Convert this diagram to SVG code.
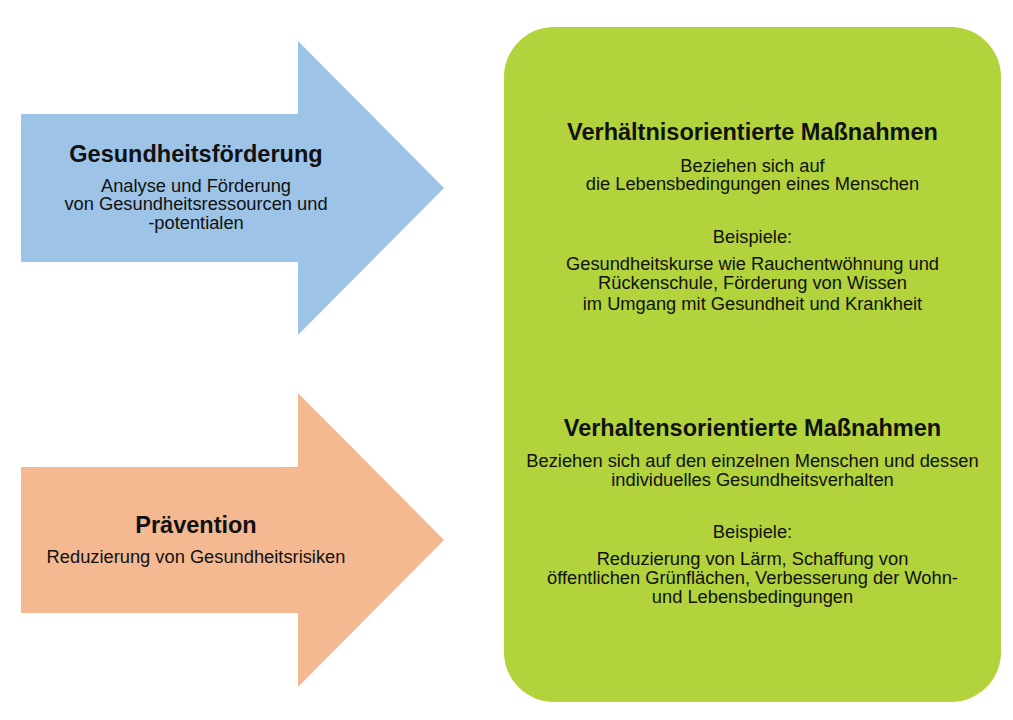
<svg xmlns="http://www.w3.org/2000/svg" width="1013" height="720" viewBox="0 0 1013 720">
<style>
text { font-family: "Liberation Sans", Arial, sans-serif; fill: #111; text-anchor: middle; }
.t { font-size: 23.5px; font-weight: bold; }
.s { font-size: 18.3px; }
</style>
<rect x="0" y="0" width="1013" height="720" fill="#ffffff"/>
<g id="gesundheitsfoerderung">
<polygon points="21,114 298,114 298,41 444,188 298,335 298,262 21,262" fill="#9dc3e6"/>
<text class="t" x="196" y="162">Gesundheitsförderung</text>
<text class="s" x="196" y="191.5">Analyse und Förderung</text>
<text class="s" x="196" y="210">von Gesundheitsressourcen und</text>
<text class="s" x="196" y="229">-potentialen</text>
</g>
<g id="praevention">
<polygon points="21,467 298,467 298,393 444,540 298,687 298,613 21,613" fill="#f4b990"/>
<text class="t" x="196" y="533">Prävention</text>
<text class="s" x="196" y="563">Reduzierung von Gesundheitsrisiken</text>
</g>
<g id="massnahmen">
<rect x="504" y="27" width="497" height="675" rx="50" ry="50" fill="#b2d33b"/>
<text class="t" x="752.5" y="140">Verhältnisorientierte Maßnahmen</text>
<text class="s" x="752.5" y="171.5">Beziehen sich auf</text>
<text class="s" x="752.5" y="190">die Lebensbedingungen eines Menschen</text>
<text class="s" x="752.5" y="242.5">Beispiele:</text>
<text class="s" x="752.5" y="270">Gesundheitskurse wie Rauchentwöhnung und</text>
<text class="s" x="752.5" y="289">Rückenschule, Förderung von Wissen</text>
<text class="s" x="752.5" y="310">im Umgang mit Gesundheit und Krankheit</text>
<text class="t" x="752.5" y="436">Verhaltensorientierte Maßnahmen</text>
<text class="s" x="752.5" y="466.5">Beziehen sich auf den einzelnen Menschen und dessen</text>
<text class="s" x="752.5" y="486">individuelles Gesundheitsverhalten</text>
<text class="s" x="752.5" y="538">Beispiele:</text>
<text class="s" x="752.5" y="565">Reduzierung von Lärm, Schaffung von</text>
<text class="s" x="752.5" y="584">öffentlichen Grünflächen, Verbesserung der Wohn-</text>
<text class="s" x="752.5" y="603">und Lebensbedingungen</text>
</g>
<g id="connectors"></g>
</svg>
